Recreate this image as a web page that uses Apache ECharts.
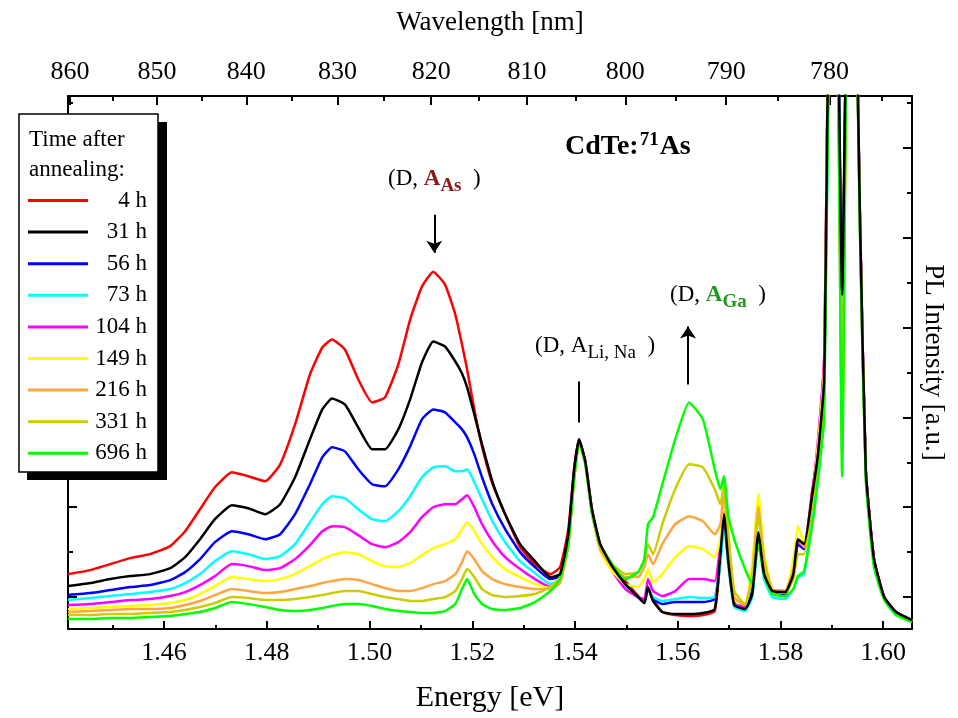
<!DOCTYPE html>
<html><head><meta charset="utf-8">
<script src="https://cdn.jsdelivr.net/npm/echarts@6/dist/echarts.min.js"></script>
<style>html,body{margin:0;padding:0;background:#fff}#c{width:958px;height:718px}</style>
</head><body><div id="c"></div>
<script>
// ---------- data ----------
const energy = [1.4413,1.4456,1.4495,1.4534,1.4573,1.4612,1.4641,1.4670,1.4699,1.4732,
 1.4764,1.4797,1.4826,1.4855,1.4884,1.4908,1.4927,1.4952,1.4978,1.5005,
 1.5030,1.5056,1.5079,1.5102,1.5124,1.5147,1.5167,1.5180,1.5190,1.5204,
 1.5219,1.5239,1.5264,1.5293,1.5322,1.5352,1.5371,1.5387,1.5398,1.5408,
 1.5420,1.5433,1.5449,1.5472,1.5498,1.5523,1.5535,1.5542,1.5552,1.5570,
 1.5595,1.5622,1.5649,1.5672,1.5683,1.5690,1.5698,1.5710,1.5731,1.5745,
 1.5757,1.5768,1.5784,1.5809,1.5825,1.5834,1.5846,1.5862,1.5873,1.5885,
 1.5897,1.5908,1.5920,1.5932,1.5943,1.5955,1.5966,1.5982,1.6002,1.6025,
 1.6056];
const seriesNames = ['4 h','31 h','56 h','73 h','104 h','149 h','216 h','331 h','696 h'];
const seriesColors = ['#ff0000','#000000','#0000ff','#00ffff','#ff00ff','#ffff00','#ffa640','#cccc00','#00ff00'];
const pl4h = [55,59,65,71,75,83,98,120,142,157, 153,148,165,205,255,282,290,280,250,227, 232,265,310,343,358,345,315,285,260,220, 183,146,115,82,65,55,62,100,160,190, 168,120,85,65,48,33,27,40,30,17, 14,13,14,18,70,113,70,25,20,35, 95,55,38,37,60,85,82,140,180,270, 700,700,320,700,700,405,160,70,32,16, 8];
const pl31h = [43,46,50,53,55,61,72,90,110,124, 121,115,125,152,190,220,231,225,202,180, 180,200,230,267,288,283,268,256,242,215, 185,148,115,85,68,52,55,95,158,190, 168,120,85,63,45,32,26,42,28,17, 15,15,16,20,75,115,70,24,20,35, 97,55,38,37,55,90,85,135,175,250, 700,700,335,700,700,405,160,70,32,17, 9];
const pl56h = [34,36,39,42,44,49,57,70,87,98, 95,90,95,115,145,172,182,178,160,145, 143,160,183,210,220,217,207,200,192,175, 152,125,100,77,62,50,53,93,156,189, 167,118,83,62,45,32,26,41,30,25, 27,27,27,30,70,113,70,26,20,40, 95,55,38,35,55,85,80,130,170,245, 700,700,310,700,700,402,158,70,31,16, 8];
const pl73h = [29,31,33,35,37,40,46,55,68,78, 75,70,73,85,107,125,133,131,120,110, 108,118,133,152,162,163,158,158,160,147, 130,108,87,68,56,45,50,90,152,187, 165,115,80,60,43,31,27,40,32,28, 30,32,31,32,65,105,65,22,18,32, 90,50,32,30,40,52,55,115,150,230, 680,700,305,700,700,398,155,65,30,15, 8];
const pl104h = [24,25,27,29,30,33,37,44,53,65, 63,59,61,70,84,98,103,102,94,85, 82,87,97,112,122,125,125,130,134,122, 105,88,72,60,50,42,48,88,152,189, 167,118,80,58,40,32,30,50,38,33, 38,50,50,48,85,118,75,25,23,55, 128,70,40,38,60,87,83,135,190,270, 700,700,245,700,700,405,160,70,32,17, 9];
const pl149h = [20,21,22,23,24,26,29,35,43,52, 50,48,50,55,63,70,74,77,75,68, 63,62,66,74,81,85,90,100,107,98, 85,72,60,52,45,41,47,85,150,188, 166,117,78,58,45,42,50,60,47,55, 72,83,80,72,90,135,80,30,24,65, 135,75,40,38,70,103,85,130,185,260, 700,700,207,700,700,398,157,68,31,16, 8];
const pl216h = [17,18,19,20,20,21,24,28,34,40, 38,36,37,40,43,46,48,50,49,45, 41,38,38,41,45,48,55,67,78,70, 58,50,45,42,40,40,46,84,149,188, 166,117,80,62,52,52,62,75,65,85, 105,113,108,95,105,140,85,32,24,55, 122,70,40,38,60,90,82,130,180,250, 700,700,173,700,700,395,155,67,30,15, 8];
const pl331h = [14,14,15,15,16,17,19,22,26,32, 31,29,29,30,32,34,36,38,38,35, 32,30,28,28,30,32,38,50,60,52, 40,34,32,33,35,42,52,85,149,188, 166,117,82,65,55,57,70,85,75,105, 140,165,162,140,125,145,100,38,25,50, 115,65,38,36,50,75,75,125,170,235, 700,700,190,700,700,392,153,65,30,15, 8];
const pl696h = [10,10,11,11,12,13,15,17,21,27, 25,22,19,18,19,21,23,25,25,23, 20,18,17,16,16,18,25,40,50,35, 25,20,19,21,27,38,50,85,149,188, 166,117,85,65,50,57,70,105,112,145, 190,227,210,160,140,153,115,90,60,45, 85,55,35,33,40,53,58,105,150,210, 680,700,153,700,700,390,150,62,29,14, 7];
const intensities = [pl4h, pl31h, pl56h, pl73h, pl104h, pl149h, pl216h, pl331h, pl696h];

const energyTicks = [1.46,1.48,1.50,1.52,1.54,1.56,1.58,1.60];
const energyMinorTicks = [1.45,1.47,1.49,1.51,1.53,1.55,1.57,1.59];
const wavelengthTicks = [860,850,840,830,820,810,800,790,780];
const wavelengthMinorTicks = [855,845,835,825,815,805,795,785,775];
const intensityTicks = [32,122,212,302,392,482];
const intensityMinorTicks = [77,167,257,347,437,527];

// ---------- chart ----------
const HC = 1239.84; // eV*nm
const FONT = "'Liberation Serif','Times New Roman',serif";
const X_MIN = 1.4413, X_MAX = 1.6056, Y_MIN = 0, Y_MAX = 534;
const chart = echarts.init(document.getElementById('c'), null, {renderer: 'canvas'});

function xAx(pos, ticks, len, withLine, labels, extra) {
  return Object.assign({
    type: 'value', min: X_MIN, max: X_MAX, position: pos, gridIndex: 0,
    axisLine: {show: withLine, onZero: false, lineStyle: {color: '#000', width: 2}},
    axisTick: {show: true, inside: true, length: len, lineStyle: {color: '#000', width: 2}, customValues: ticks},
    axisLabel: labels ? Object.assign({show: true, customValues: ticks, color: '#000', fontFamily: FONT, fontSize: 26, margin: 11}, labels) : {show: false},
    splitLine: {show: false}
  }, extra || {});
}
function yAx(pos, ticks, len, withLine, extra) {
  return Object.assign({
    type: 'value', min: Y_MIN, max: Y_MAX, position: pos, gridIndex: 0,
    axisLine: {show: withLine, onZero: false, lineStyle: {color: '#000', width: 2}},
    axisTick: {show: true, inside: true, length: len, lineStyle: {color: '#000', width: 2}, customValues: ticks},
    axisLabel: {show: false},
    splitLine: {show: false}
  }, extra || {});
}

const wlE = wavelengthTicks.map(l => HC / l);
const wlMinorE = wavelengthMinorTicks.map(l => HC / l);

const mainTxt = {fontFamily: FONT, fontSize: 23, fill: '#000', lineHeight: 30, verticalAlign: 'middle'};
const option = {
  animation: false,
  backgroundColor: '#fff',
  grid: {left: 68, right: 46, top: 96, bottom: 88, containLabel: false},
  xAxis: [
    xAx('bottom', energyTicks, 8, true, {formatter: v => v.toFixed(2)},
      {name: 'Energy [eV]', nameLocation: 'middle', nameGap: 54,
       nameTextStyle: {fontFamily: FONT, fontSize: 30, color: '#000'}}),
    xAx('bottom', energyMinorTicks, 4, false, null),
    xAx('top', wlE, 9, true, {formatter: v => String(Math.round(HC / v))},
      {name: 'Wavelength [nm]', nameLocation: 'middle', nameGap: 60,
       nameTextStyle: {fontFamily: FONT, fontSize: 27, color: '#000'}}),
    xAx('top', wlMinorE, 5, false, null)
  ],
  yAxis: [
    yAx('left', intensityTicks, 9, true),
    yAx('left', intensityMinorTicks, 5, false),
    yAx('right', intensityTicks, 9, true,
      {name: 'PL Intensity [a.u.]', nameLocation: 'middle', nameRotate: -90, nameGap: 35,
       nameTextStyle: {fontFamily: FONT, fontSize: 27, color: '#000', verticalAlign: 'top'}}),
    yAx('right', intensityMinorTicks, 5, false)
  ],
  legend: {
    data: seriesNames, orient: 'vertical', left: 19, top: 114, z: 5,
    icon: 'rect', itemWidth: 60, itemHeight: 3, itemGap: 8.6,
    padding: [75, 11, 10, 9],
    selectedMode: false,
    backgroundColor: 'transparent', borderWidth: 0,
    formatter: '{r|{name}}',
    textStyle: {fontFamily: FONT, fontSize: 23, color: '#000',
      rich: {r: {width: 54, align: 'right', fontFamily: FONT, fontSize: 23}}}
  },
  graphic: [
    {type: 'rect', z: 3, shape: {x: 27, y: 122, width: 140, height: 358},
     style: {fill: '#000'}},
    {type: 'rect', z: 3, shape: {x: 19, y: 114, width: 139, height: 358},
     style: {fill: '#fff', stroke: '#000', lineWidth: 1.5}},
    {type: 'text', z: 100, left: 29, top: 125,
     style: {text: 'Time after\nannealing:', font: '23px ' + FONT, fill: '#000', lineHeight: 30}},
    {type: 'text', z: 100, x: 565, y: 147,
     style: {text: '{b|CdTe:}{p|71}{b|As}', verticalAlign: 'middle',
       rich: {b: {fontFamily: FONT, fontSize: 28, fontWeight: 'bold', fill: '#000', lineHeight: 36, verticalAlign: 'middle'},
              p: {fontFamily: FONT, fontSize: 19, fontWeight: 'bold', fill: '#000', padding: [0, 1, 14, 1], verticalAlign: 'middle'}}}},
    {type: 'text', z: 100, x: 388, y: 179,
     style: {text: '{n|(D, }{a|A}{s|As}{n|  )}', verticalAlign: 'middle',
       rich: {n: mainTxt,
              a: Object.assign({}, mainTxt, {fontWeight: 'bold', fill: '#8b1a1a'}),
              s: {fontFamily: FONT, fontSize: 19, fontWeight: 'bold', fill: '#8b1a1a', padding: [15, 0, 0, 0], verticalAlign: 'middle'}}}},
    {type: 'text', z: 100, x: 535, y: 346,
     style: {text: '{n|(D, A}{s|Li, Na}{n|  )}', verticalAlign: 'middle',
       rich: {n: mainTxt,
              s: {fontFamily: FONT, fontSize: 19, fill: '#000', padding: [15, 0, 0, 0], verticalAlign: 'middle'}}}},
    {type: 'text', z: 100, x: 670, y: 295,
     style: {text: '{n|(D, }{a|A}{s|Ga}{n|  )}', verticalAlign: 'middle',
       rich: {n: mainTxt,
              a: Object.assign({}, mainTxt, {fontWeight: 'bold', fill: '#1f9a1f'}),
              s: {fontFamily: FONT, fontSize: 19, fontWeight: 'bold', fill: '#1f9a1f', padding: [15, 0, 0, 0], verticalAlign: 'middle'}}}}
  ],
  series: seriesNames.map((name, i) => ({
    name, type: 'line', xAxisIndex: 0, yAxisIndex: 0,
    data: energy.map((e, j) => [e, intensities[i][j]]),
    showSymbol: false, symbol: 'none', smooth: 0.15, clip: true,
    z: name === '31 h' ? 4 : 2,
    color: seriesColors[i],
    lineStyle: {color: seriesColors[i], width: 2.5},
    markLine: i === 0 ? {
      silent: true, animation: false, symbolSize: 12,
      lineStyle: {color: '#000', type: 'solid', width: 2},
      label: {show: false},
      data: [
        [{coord: [1.5126, 415], symbol: 'none'}, {coord: [1.5126, 377], symbol: 'arrow'}],
        [{coord: [1.5408, 248], symbol: 'none'}, {coord: [1.5408, 207], symbol: 'none'}],
        [{coord: [1.5620, 245], symbol: 'none'}, {coord: [1.5620, 303], symbol: 'arrow'}]
      ]
    } : undefined
  }))
};
chart.setOption(option);
</script>
</body></html>
